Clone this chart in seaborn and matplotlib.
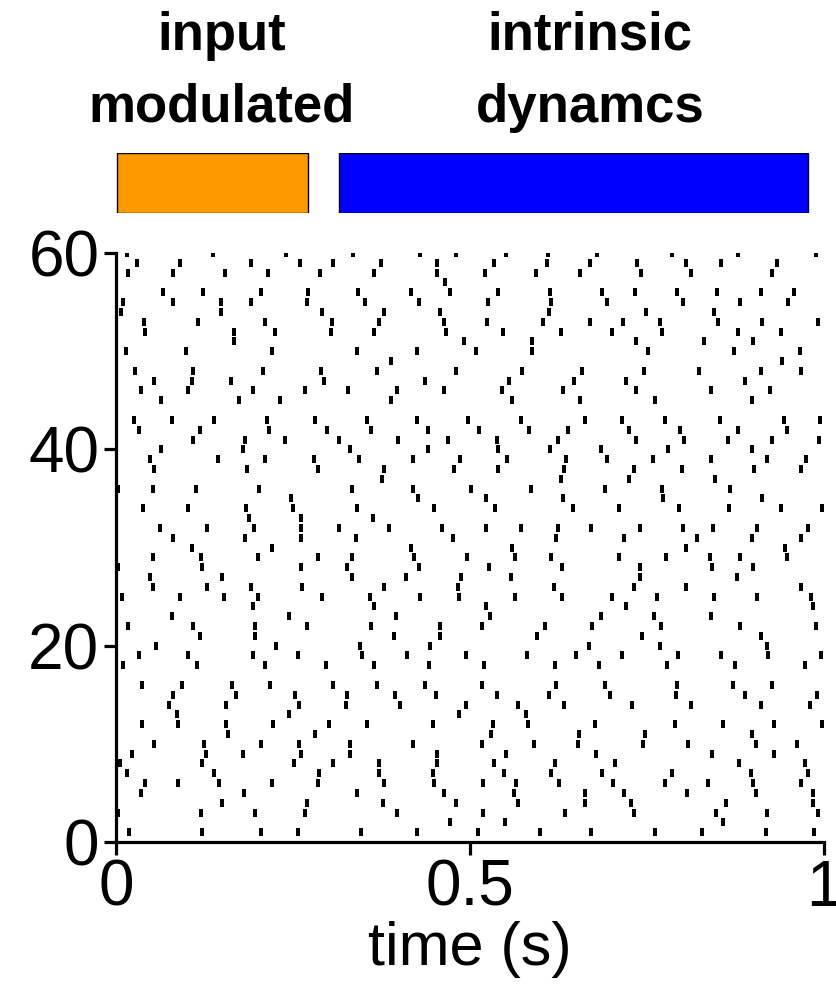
import matplotlib
matplotlib.use('Agg')
import matplotlib.pyplot as plt
import seaborn as sns
import pandas as pd

# spike times (s) for each neuron
t60 = [0.016, 0.137, 0.240, 0.335, 0.429, 0.480, 0.551, 0.610, 0.679, 0.786, 0.878, 0.989]
t59 = [0.029, 0.090, 0.190, 0.260, 0.306, 0.374, 0.454, 0.534, 0.609, 0.670, 0.736, 0.805, 0.855, 0.934]
t58 = [0.017, 0.080, 0.154, 0.214, 0.288, 0.365, 0.454, 0.521, 0.593, 0.656, 0.741, 0.812, 0.926]
t57 = [0.465]
t56 = [0.067, 0.123, 0.205, 0.271, 0.342, 0.417, 0.472, 0.539, 0.613, 0.686, 0.733, 0.792, 0.849, 0.911, 0.958]
t55 = [0.010, 0.081, 0.149, 0.191, 0.270, 0.352, 0.428, 0.526, 0.615, 0.694, 0.801, 0.882, 0.949]
t54 = [0.007, 0.148, 0.291, 0.378, 0.457, 0.612, 0.749, 0.845]
t53 = [0.040, 0.116, 0.211, 0.305, 0.371, 0.463, 0.524, 0.603, 0.670, 0.716, 0.768, 0.850, 0.913, 0.992]
t52 = [0.041, 0.167, 0.225, 0.304, 0.365, 0.466, 0.547, 0.628, 0.700, 0.771, 0.879, 0.939]
t51 = [0.167, 0.492, 0.587, 0.735, 0.831, 0.900]
t50 = [0.014, 0.099, 0.220, 0.340, 0.425, 0.509, 0.587, 0.751, 0.873, 0.966]
t49 = [0.388, 0.941]
t48 = [0.027, 0.109, 0.208, 0.290, 0.369, 0.480, 0.573, 0.658, 0.746, 0.823, 0.911, 0.968]
t47 = [0.053, 0.108, 0.162, 0.294, 0.436, 0.555, 0.647, 0.720, 0.888]
t46 = [0.036, 0.102, 0.193, 0.267, 0.327, 0.397, 0.463, 0.545, 0.631, 0.735, 0.841, 0.924]
t45 = [0.063, 0.174, 0.231, 0.388, 0.560, 0.655, 0.761, 0.898]
t44 = []
t43 = [0.025, 0.079, 0.138, 0.213, 0.281, 0.354, 0.425, 0.497, 0.572, 0.662, 0.715, 0.775, 0.853, 0.944, 0.994]
t42 = [0.032, 0.119, 0.216, 0.298, 0.360, 0.440, 0.513, 0.583, 0.638, 0.725, 0.797, 0.879, 0.948]
t41 = [0.109, 0.182, 0.239, 0.315, 0.399, 0.469, 0.538, 0.625, 0.734, 0.802, 0.864, 0.927, 0.993]
t40 = [0.063, 0.180, 0.330, 0.441, 0.540, 0.613, 0.685, 0.780, 0.899]
t39 = [0.048, 0.144, 0.211, 0.280, 0.343, 0.420, 0.486, 0.552, 0.635, 0.694, 0.759, 0.840, 0.920, 0.974]
t38 = [0.054, 0.185, 0.285, 0.379, 0.477, 0.539, 0.633, 0.732, 0.799, 0.901, 0.968]
t37 = [0.376, 0.629, 0.724, 0.846]
t36 = [0.003, 0.052, 0.113, 0.202, 0.334, 0.420, 0.502, 0.586, 0.691, 0.771, 0.867]
t35 = [0.247, 0.427, 0.522, 0.632, 0.773, 0.912]
t34 = [0.038, 0.101, 0.184, 0.250, 0.341, 0.449, 0.535, 0.645, 0.711, 0.795, 0.866, 0.939, 0.997]
t33 = [0.188, 0.261, 0.363]
t32 = [0.062, 0.128, 0.195, 0.262, 0.315, 0.386, 0.461, 0.522, 0.572, 0.624, 0.671, 0.740, 0.801, 0.843, 0.906, 0.977]
t31 = [0.081, 0.182, 0.261, 0.339, 0.476, 0.622, 0.718, 0.821, 0.898, 0.967]
t30 = [0.108, 0.221, 0.416, 0.560, 0.805, 0.945]
t29 = [0.052, 0.120, 0.200, 0.285, 0.333, 0.421, 0.496, 0.564, 0.614, 0.710, 0.777, 0.839, 0.881, 0.948]
t28 = [0.003, 0.122, 0.261, 0.326, 0.428, 0.527, 0.630, 0.740, 0.842, 0.900]
t27 = [0.048, 0.150, 0.333, 0.410, 0.487, 0.558, 0.740, 0.877]
t26 = [0.052, 0.129, 0.190, 0.263, 0.379, 0.483, 0.618, 0.731, 0.805, 0.967]
t25 = [0.008, 0.090, 0.153, 0.200, 0.291, 0.359, 0.429, 0.485, 0.563, 0.630, 0.700, 0.764, 0.845, 0.905, 0.981]
t24 = [0.193, 0.364, 0.522, 0.720, 0.984]
t23 = [0.079, 0.244, 0.396, 0.528, 0.685, 0.760, 0.841]
t22 = [0.017, 0.109, 0.197, 0.270, 0.360, 0.458, 0.517, 0.606, 0.672, 0.770, 0.882, 0.989]
t21 = [0.118, 0.197, 0.393, 0.457, 0.594, 0.743, 0.911]
t20 = [0.057, 0.226, 0.344, 0.444, 0.668, 0.769, 0.920]
t19 = [0.033, 0.101, 0.193, 0.257, 0.348, 0.411, 0.495, 0.580, 0.650, 0.714, 0.794, 0.854, 0.921, 0.996]
t18 = [0.010, 0.114, 0.211, 0.297, 0.365, 0.442, 0.520, 0.620, 0.682, 0.778, 0.874, 0.973]
t17 = []
t16 = [0.037, 0.093, 0.164, 0.218, 0.306, 0.369, 0.436, 0.517, 0.621, 0.691, 0.792, 0.872, 0.926]
t15 = [0.081, 0.170, 0.253, 0.326, 0.394, 0.452, 0.538, 0.612, 0.698, 0.791, 0.888, 0.990]
t14 = [0.075, 0.155, 0.259, 0.325, 0.401, 0.494, 0.568, 0.633, 0.729, 0.812, 0.911, 0.980]
t13 = [0.086, 0.244, 0.485, 0.579]
t12 = [0.037, 0.088, 0.156, 0.222, 0.301, 0.355, 0.448, 0.533, 0.582, 0.677, 0.790, 0.857, 0.929, 0.997]
t11 = [0.158, 0.281, 0.529, 0.654, 0.747, 0.898]
t10 = [0.053, 0.124, 0.205, 0.258, 0.331, 0.420, 0.517, 0.591, 0.652, 0.745, 0.808, 0.904, 0.962]
t9 = [0.023, 0.127, 0.179, 0.262, 0.330, 0.454, 0.551, 0.678, 0.842, 0.929]
t8 = [0.006, 0.122, 0.251, 0.306, 0.372, 0.454, 0.534, 0.620, 0.705, 0.880, 0.973]
t7 = [0.015, 0.139, 0.287, 0.372, 0.448, 0.548, 0.614, 0.687, 0.785, 0.897, 0.978]
t6 = [0.041, 0.087, 0.146, 0.220, 0.286, 0.379, 0.449, 0.518, 0.565, 0.626, 0.702, 0.776, 0.836, 0.900, 0.968]
t5 = [0.035, 0.181, 0.341, 0.463, 0.562, 0.662, 0.718, 0.807, 0.904, 0.984]
t4 = [0.150, 0.270, 0.377, 0.480, 0.568, 0.662, 0.728, 0.861, 0.984]
t3 = [0.003, 0.120, 0.197, 0.267, 0.397, 0.518, 0.634, 0.732, 0.848, 0.919, 0.991]
t2 = [0.472, 0.550, 0.857]
t1 = [0.018, 0.122, 0.205, 0.257, 0.346, 0.425, 0.512, 0.599, 0.671, 0.762, 0.828, 0.918, 0.986]

neuron_rows = [
    (60, t60), (59, t59), (58, t58), (57, t57), (56, t56), (55, t55), (54, t54), (53, t53),
    (52, t52), (51, t51), (50, t50), (49, t49), (48, t48), (47, t47), (46, t46), (45, t45),
    (44, t44), (43, t43), (42, t42), (41, t41), (40, t40), (39, t39), (38, t38), (37, t37),
    (36, t36), (35, t35), (34, t34), (33, t33), (32, t32), (31, t31), (30, t30), (29, t29),
    (28, t28), (27, t27), (26, t26), (25, t25), (24, t24), (23, t23), (22, t22), (21, t21),
    (20, t20), (19, t19), (18, t18), (17, t17), (16, t16), (15, t15), (14, t14), (13, t13),
    (12, t12), (11, t11), (10, t10), (9, t9), (8, t8), (7, t7), (6, t6), (5, t5),
    (4, t4), (3, t3), (2, t2), (1, t1),
]

x_ticks = [0, 0.5, 1]
x_tick_labels = ['0', '0.5', '1']
y_ticks = [0, 20, 40, 60]
y_tick_labels = ['0', '20', '40', '60']

phase_labels = ['input\nmodulated', 'intrinsic\ndynamcs']
phase_start = [0.0014, 0.315]
phase_end = [0.271, 0.977]
phase_colors = ['#ff9900', '#0000ff']

sns.set_theme(style='ticks')
plt.rcParams['font.family'] = ['Liberation Sans', 'DejaVu Sans']
plt.rcParams['text.color'] = 'black'
plt.rcParams['axes.labelcolor'] = 'black'
plt.rcParams['xtick.color'] = 'black'
plt.rcParams['ytick.color'] = 'black'

W, H = 837, 996
fig = plt.figure(figsize=(W / 100, H / 100), dpi=100)

# main raster
ax = fig.add_axes([116 / W, 1 - 842 / H, 708 / W, 589 / H])
times, neurons = [], []
for n, ts in neuron_rows:
    times.extend(ts)
    neurons.extend([n] * len(ts))
df = pd.DataFrame({'time': times, 'neuron': neurons})
spike_marker = [(-0.26, -0.5), (0.26, -0.5), (0.26, 0.5), (-0.26, 0.5), (-0.26, -0.5)]
sns.scatterplot(data=df, x='time', y='neuron', marker=spike_marker, s=38, linewidth=0,
                color='black', ax=ax, legend=False)
ax.set_xlim(0, 1)
ax.set_ylim(0, 60)
ax.set_xticks(x_ticks)
ax.set_xticklabels(x_tick_labels)
ax.set_yticks(y_ticks)
ax.set_yticklabels(y_tick_labels)
ax.set_xlabel('time (s)', fontsize=44, labelpad=2)
ax.set_ylabel('')
for s in ['top', 'right']:
    ax.spines[s].set_visible(False)
for s in ['left', 'bottom']:
    ax.spines[s].set_linewidth(2.3)
    ax.spines[s].set_color('black')
ax.tick_params(axis='both', direction='out', length=9, width=2.3, labelsize=46,
               color='black', labelcolor='black', pad=3)

# phase bars
axb = fig.add_axes([116 / W, 1 - 213 / H, 708 / W, 60 / H])
bar_df = pd.DataFrame({'phase': phase_labels, 'start': phase_start, 'end': phase_end})
axb.barh(y=[0, 0], width=bar_df['end'] - bar_df['start'], left=bar_df['start'],
         height=1.0, color=phase_colors, edgecolor='black', linewidth=1.0)
axb.set_xlim(0, 1)
axb.set_ylim(-0.5, 0.5)
axb.axis('off')

# phase labels
for lab, cx in zip(phase_labels, [222 / W, 590 / W]):
    l1, l2 = lab.split('\n')
    fig.text(cx, 1 - 50 / H, l1, ha='center', va='baseline', fontsize=38,
             fontweight='bold', color='black')
    fig.text(cx, 1 - 122 / H, l2, ha='center', va='baseline', fontsize=38,
             fontweight='bold', color='black')

fig.savefig('out.png', dpi=100)
